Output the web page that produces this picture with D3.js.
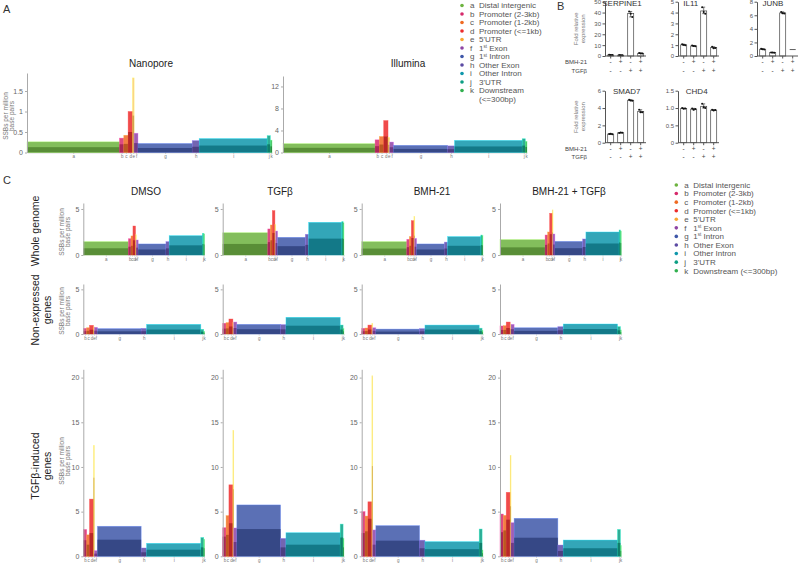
<!DOCTYPE html>
<html>
<head>
<meta charset="utf-8">
<script src="https://cdn.jsdelivr.net/npm/d3@7"></script>
<style>
  body { margin: 0; background: #fff; }
  text { font-family: "Liberation Sans", Arial, sans-serif; }
</style>
</head>
<body>
<svg id="fig" width="799" height="563"></svg>
<script>
// genomic region categories
const cats = ["a", "b", "c", "d", "e", "f", "g", "h", "i", "j", "k"];
const catNames = ["Distal intergenic", "Promoter (2-3kb)", "Promoter (1-2kb)", "Promoter (<=1kb)", "5'UTR",
  "1st Exon", "1st Intron", "Other Exon", "Other Intron", "3'UTR", "Downstream (<=300bp)"];
const catColors = ["#6db33f", "#d62a6b", "#ef6a22", "#ec2b2b", "#f7a833", "#8e44a4",
  "#3e57a8", "#5b4aa3", "#0f97ab", "#0c9e83", "#31b04f"];
const geneCats = cats.slice(1); // gene subsets have no distal intergenic

// bar widths (share of the region, %)
const widthsA = [38.5, 1.8, 1.8, 1.8, 0.7, 1.6, 22.6, 2.9, 28.3, 1.3, 0.7];
const widthsWhole = [38.7, 2.2, 1.7, 2.2, 0.6, 1.7, 23.8, 2.8, 28.5, 1.1, 0.5];
const widthsGenes = [2.8, 2.4, 3.3, 0.7, 2.6, 36.5, 4.5, 45.3, 2.4, 0.5];

// panel A
const nanoporeTop = [0.26, 0.35, 0.42, 1.0, 1.82, 0.47, 0.22, 0.29, 0.34, 0.41, 0.3];
const nanoporeLow = [0.13, 0.2, 0.21, 0.5, 0.9, 0.23, 0.11, 0.14, 0.17, 0.2, 0.15];
const illuminaTop = [1.6, 2.3, 2.9, 5.8, 2.7, 1.9, 1.3, 1.2, 2.2, 2.5, 2.0];
const illuminaLow = [0.85, 1.15, 1.45, 2.9, 1.4, 0.95, 0.65, 0.6, 1.1, 1.25, 1.0];

// panel C, one row per condition
const conditions = ["DMSO", "TGFβ", "BMH-21", "BMH-21 + TGFβ"];
const wholeTop = [
  [1.45, 1.77, 2.07, 3.15, 2.2, 1.63, 1.2, 1.45, 2.1, 2.35, 2.3],
  [2.42, 2.83, 3.26, 4.82, 3.3, 2.6, 1.92, 2.25, 3.55, 3.62, 3.5],
  [1.45, 1.7, 2.0, 3.73, 4.2, 1.8, 1.2, 1.4, 2.0, 2.17, 2.1],
  [1.67, 2.17, 2.5, 4.53, 4.9, 2.28, 1.48, 1.74, 2.5, 2.72, 2.6]];
const wholeLow = [
  [0.73, 0.9, 1.0, 1.6, 1.1, 0.8, 0.6, 0.72, 1.05, 1.2, 1.15],
  [1.2, 1.4, 1.6, 2.4, 1.65, 1.3, 0.96, 1.1, 1.78, 1.8, 1.75],
  [0.7, 0.85, 1.0, 1.85, 2.1, 0.9, 0.6, 0.7, 1.0, 1.08, 1.05],
  [0.83, 1.1, 1.25, 2.26, 2.45, 1.14, 0.74, 0.87, 1.25, 1.36, 1.3]];
const nonExprTop = [
  [0.63, 0.7, 0.97, 0.8, 0.75, 0.6, 0.63, 1.08, 0.52, 0.3],
  [1.2, 1.27, 1.68, 1.3, 1.34, 1.08, 1.05, 1.87, 1.0, 0.6],
  [0.63, 0.67, 1.0, 1.2, 0.7, 0.55, 0.6, 1.0, 0.65, 0.4],
  [0.9, 0.93, 1.34, 1.1, 1.08, 0.7, 0.82, 1.12, 0.82, 0.45]];
const nonExprLow = [
  [0.32, 0.35, 0.48, 0.4, 0.37, 0.3, 0.31, 0.5, 0.26, 0.15],
  [0.6, 0.63, 0.84, 0.65, 0.67, 0.54, 0.52, 0.93, 0.5, 0.3],
  [0.31, 0.33, 0.5, 0.6, 0.35, 0.27, 0.3, 0.5, 0.32, 0.2],
  [0.45, 0.46, 0.67, 0.55, 0.54, 0.35, 0.41, 0.56, 0.41, 0.22]];
const inducedTop = [
  [3.0, 2.4, 6.4, 12.4, 0.63, 3.36, 0.93, 1.45, 2.1, 1.9],
  [3.2, 4.55, 8.0, 14.1, 3.17, 5.75, 2.0, 2.64, 3.6, 2.0],
  [5.0, 4.5, 6.1, 20.2, 2.95, 3.43, 1.8, 1.64, 3.05, 0.7],
  [4.73, 4.58, 7.16, 11.3, 3.76, 4.25, 1.26, 1.82, 3.0, 1.2]];
const inducedLow = [
  [1.8, 1.3, 2.6, 8.8, 0.3, 1.86, 0.45, 0.74, 1.0, 0.9],
  [2.2, 2.4, 3.7, 7.5, 1.6, 3.05, 1.0, 1.3, 2.1, 1.0],
  [2.6, 2.8, 4.2, 10.1, 1.3, 1.75, 0.9, 0.8, 1.5, 0.35],
  [2.7, 2.9, 4.1, 5.6, 1.5, 2.08, 0.6, 0.9, 1.5, 0.6]];

// panel B, qPCR
const bGenes = ["SERPINE1", "IL11", "JUNB", "SMAD7", "CHD4"];
const bmhSigns = ["-", "+", "-", "+"];
const tgfSigns = ["-", "-", "+", "+"];
const bMeans = [[1.0, 0.8, 39, 2.5], [1.03, 0.93, 4.15, 0.77], [1.0, 0.5, 6.35, 0.95],
  [1.0, 1.15, 4.9, 3.6], [0.99, 0.97, 1.05, 0.94]];
const bReps = [
  [[1.1, 1.0, 0.9], [0.9, 0.8, 0.7], [41, 39, 36], [2.8, 2.4, 2.3]],
  [[1.08, 1.03, 0.98], [0.97, 0.92, 0.9], [4.5, 4.05, 3.9], [0.85, 0.72, 0.74]],
  [[1.05, 0.98, 0.97], [0.52, 0.5, 0.48], [6.5, 6.3, 6.25], []],
  [[1.0, 1.02, 0.98], [1.12, 1.18, 1.15], [4.95, 4.88, 4.85], [3.8, 3.5, 3.5]],
  [[1.0, 0.98, 0.99], [0.99, 0.95, 0.97], [1.12, 1.02, 1.0], [0.95, 0.93, 0.94]]];
const bMax = [50, 5, 8, 6, 1.5];
const bTicks = [[0, 10, 20, 30, 40, 50], [0, 1, 2, 3, 4, 5], [0, 2, 4, 6, 8], [0, 2, 4, 6], [0, 0.5, 1.0, 1.5]];

const svg = d3.select("#fig");
const colorOf = {};
cats.forEach((c, i) => colorOf[c] = catColors[i]);

// variable width bar chart
function mekko(o) {
  const g = svg.append("g");
  const starts = [0, ...d3.cumsum(o.widths)];
  const x = d3.scaleLinear().domain([0, d3.sum(o.widths)]).range([o.x0, o.x0 + o.w]);
  const y = d3.scaleLinear().domain([0, o.yMax]).range([o.y0, o.y0 - o.h]);
  const data = o.cats.map((c, i) => ({ c, s: starts[i], e: starts[i + 1], top: o.top[i], low: o.low[i], col: colorOf[c] }));

  const xa = g.append("g").attr("transform", `translate(0,${o.y0})`)
    .call(d3.axisBottom(x).tickValues(data.map(d => (d.s + d.e) / 2))
      .tickFormat((v, i) => data[i].c).tickSize(1.5).tickSizeOuter(0).tickPadding(1));
  xa.select(".domain").attr("stroke", "#ddd");
  xa.selectAll("line").attr("stroke", "#ccc");
  xa.selectAll("text").attr("font-size", 4.5).attr("fill", "#777");

  const bars = g.append("g").selectAll("g").data(data).join("g");
  bars.append("rect")
    .attr("x", d => x(d.s))
    .attr("width", d => Math.max(0.8, x(d.e) - x(d.s)))
    .attr("y", d => y(d.top))
    .attr("height", d => y(0) - y(d.top))
    .attr("fill", d => d.col)
    .attr("fill-opacity", d => d.c === "e" ? 0.55 : 0.85)
    .attr("stroke", d => d3.color(d.col).brighter(1.2))
    .attr("stroke-width", 0.6)
    .attr("stroke-opacity", 0.6);
  bars.append("rect")
    .attr("x", d => x(d.s))
    .attr("width", d => Math.max(0.8, x(d.e) - x(d.s)))
    .attr("y", d => y(d.low))
    .attr("height", d => y(0) - y(d.low))
    .attr("fill", d => d3.color(d.col).darker(0.9))
    .attr("fill-opacity", d => d.c === "e" ? 0.55 : 0.8);

  const ya = g.append("g").attr("transform", `translate(${o.x0},0)`)
    .call(d3.axisLeft(y).tickValues(o.ticks).tickFormat(d3.format("~g")).tickSize(2).tickSizeOuter(0).tickPadding(2));
  ya.select(".domain").attr("stroke", "#aaa");
  ya.selectAll("line").attr("stroke", "#aaa");
  ya.selectAll("text").attr("font-size", 7).attr("fill", "#666");

  if (o.title) {
    g.append("text").attr("x", o.tx).attr("y", o.ty).attr("text-anchor", "middle")
      .attr("font-size", o.tsize).attr("fill", "#222").text(o.title);
  }
  if (o.yLab) {
    const t = g.append("text").attr("transform", `translate(${o.lx},${o.ly}) rotate(-90)`)
      .attr("text-anchor", "middle").attr("font-size", 6.5).attr("fill", "#777");
    t.append("tspan").attr("x", 0).attr("y", 0).text("SSBs per million");
    t.append("tspan").attr("x", 0).attr("y", 6.2).text("base pairs");
  }
}

function legendLabel(sel, name) {
  const m = name.match(/^1st (.*)$/);
  if (m) {
    sel.append("tspan").text("1");
    sel.append("tspan").attr("font-size", 4.5).attr("dy", -2.8).text("st");
    sel.append("tspan").attr("dy", 2.8).text(" " + m[1]);
  } else sel.append("tspan").text(name);
}

function legend(x, y0, step, split) {
  const g = svg.append("g");
  cats.forEach((c, i) => {
    const y = y0 + i * step;
    g.append("circle").attr("cx", x).attr("cy", y).attr("r", 1.8).attr("fill", catColors[i]);
    g.append("text").attr("x", x + 8).attr("y", y + 2.8).attr("font-size", 8).attr("fill", "#555").text(c);
    let name = catNames[i];
    if (split && c === "k") {
      name = "Downstream";
      g.append("text").attr("x", x + 17).attr("y", y + step + 2.8).attr("font-size", 8).attr("fill", "#555").text("(<=300bp)");
    }
    legendLabel(g.append("text").attr("x", x + 17).attr("y", y + 2.8).attr("font-size", 8).attr("fill", "#555"), name);
  });
}

// panel letters
[["A", 3, 13], ["B", 557, 10], ["C", 3, 184]].forEach(p =>
  svg.append("text").attr("x", p[1]).attr("y", p[2]).attr("font-size", 11).attr("fill", "#333").text(p[0]));

// panel A
mekko({ x0: 27, w: 245, y0: 152.5, h: 79.5, yMax: 1.94, ticks: [0, 0.5, 1, 1.5],
  widths: widthsA, cats, top: nanoporeTop, low: nanoporeLow,
  title: "Nanopore", tx: 151, ty: 67, tsize: 10, yLab: true, lx: 7.5, ly: 116 });
mekko({ x0: 283, w: 244, y0: 152.5, h: 76.5, yMax: 13.9, ticks: [0, 4, 8, 12],
  widths: widthsA, cats, top: illuminaTop, low: illuminaLow,
  title: "Illumina", tx: 408, ty: 67, tsize: 10 });
legend(462, 5.5, 8.5, true);

// panel C
const colX = [83.3, 222.7, 361.7, 500];
const titleX = [146, 280, 432, 569];
const rows = [
  { y0: 255, h: 52, yMax: 5.65, ticks: [0, 5], widths: widthsWhole, cats, top: wholeTop, low: wholeLow, ly: 232 },
  { y0: 334, h: 50, yMax: 5.6, ticks: [0, 5], widths: widthsGenes, cats: geneCats, top: nonExprTop, low: nonExprLow, ly: 311 },
  { y0: 556.3, h: 187, yMax: 20.93, ticks: [0, 5, 10, 15, 20], widths: widthsGenes, cats: geneCats, top: inducedTop, low: inducedLow, ly: 461 }];
rows.forEach((r, ri) => {
  conditions.forEach((cond, ci) => {
    mekko({ x0: colX[ci], w: 121, y0: r.y0, h: r.h, yMax: r.yMax, ticks: r.ticks,
      widths: r.widths, cats: r.cats, top: r.top[ci], low: r.low[ci],
      title: ri === 0 ? cond : null, tx: titleX[ci], ty: 194.5, tsize: 10,
      yLab: ci === 0, lx: 63.5, ly: r.ly });
  });
});
const rowLabels = [["Whole genome"], ["Non-expressed", "genes"], ["TGFβ-induced", "genes"]];
const rowLabelY = [231, 310, 466];
rowLabels.forEach((lines, i) => {
  const t = svg.append("text").attr("transform", `translate(39,${rowLabelY[i]}) rotate(-90)`)
    .attr("text-anchor", "middle").attr("font-size", 10.5).attr("fill", "#222");
  lines.forEach((l, j) => t.append("tspan").attr("x", 0).attr("y", j * 11.7).text(l));
});
legend(676.3, 185, 8.57, false);

// panel B
const bPos = [
  { ax: 605, y0: 56, yTop: 1.7, tx: 622, ty: 5.5, rowLab: true },
  { ax: 678, y0: 56, yTop: 1.7, tx: 690.7, ty: 5.5 },
  { ax: 757, y0: 56, yTop: 1.7, tx: 773, ty: 5.5 },
  { ax: 605, y0: 142.7, yTop: 90.7, tx: 626.7, ty: 94.3, rowLab: true },
  { ax: 678, y0: 142.7, yTop: 90.7, tx: 696.7, ty: 94.3 }];
bGenes.forEach((gene, gi) => {
  const p = bPos[gi];
  const g = svg.append("g");
  const x = d3.scaleBand().domain(d3.range(4)).range([p.ax + 0.7, p.ax + 40.7]).paddingInner(0.4).paddingOuter(0.2);
  const y = d3.scaleLinear().domain([0, bMax[gi]]).range([p.y0, p.yTop]);
  const fmt = bMax[gi] === 1.5 ? (d => d === 0 ? "0" : d.toFixed(1)) : d3.format("d");

  bMeans[gi].forEach((m, i) => {
    const reps = bReps[gi][i];
    const cx = x(i) + x.bandwidth() / 2;
    if (!reps.length) {
      g.append("line").attr("x1", cx - 3).attr("x2", cx + 3).attr("y1", y(m)).attr("y2", y(m))
        .attr("stroke", "#333").attr("stroke-width", 0.8);
      return;
    }
    g.append("rect").attr("x", x(i)).attr("width", x.bandwidth()).attr("y", y(m)).attr("height", y(0) - y(m))
      .attr("fill", "#fff").attr("stroke", "#444").attr("stroke-width", 0.7);
    const lo = d3.min(reps), hi = d3.max(reps);
    g.append("line").attr("x1", cx).attr("x2", cx).attr("y1", y(lo)).attr("y2", y(hi)).attr("stroke", "#222").attr("stroke-width", 0.6);
    [lo, hi].forEach(v => g.append("line").attr("x1", cx - 1.5).attr("x2", cx + 1.5).attr("y1", y(v)).attr("y2", y(v))
      .attr("stroke", "#222").attr("stroke-width", 0.6));
    reps.forEach((v, k) => g.append("circle").attr("cx", cx + (k - 1) * 1.6).attr("cy", y(v)).attr("r", 1)
      .attr("fill", "#111"));
  });

  const ya = g.append("g").attr("transform", `translate(${p.ax},0)`)
    .call(d3.axisLeft(y).tickValues(bTicks[gi]).tickFormat(fmt).tickSize(2.5).tickSizeOuter(0).tickPadding(1.5));
  ya.select(".domain").attr("stroke", "#555");
  ya.selectAll("line").attr("stroke", "#555");
  ya.selectAll("text").attr("font-size", 6).attr("fill", "#555");

  const xa = g.append("g").attr("transform", `translate(0,${p.y0})`)
    .call(d3.axisBottom(x).tickSize(2.5).tickSizeOuter(0).tickFormat(""));
  xa.select(".domain").attr("stroke", "#555").attr("d", `M${p.ax},0H${p.ax + 41}`);
  xa.selectAll("line").attr("stroke", "#555");

  g.append("text").attr("x", p.tx).attr("y", p.ty).attr("text-anchor", "middle")
    .attr("font-size", 8).attr("fill", "#333").text(gene);

  [bmhSigns, tgfSigns].forEach((signs, r) => {
    signs.forEach((s, i) => g.append("text").attr("x", x(i) + x.bandwidth() / 2).attr("y", p.y0 + 8 + r * 8.6)
      .attr("text-anchor", "middle").attr("font-size", 6.5).attr("fill", "#444").text(s));
  });
  if (p.rowLab) {
    ["BMH-21", "TGFβ"].forEach((l, r) => g.append("text").attr("x", 587).attr("y", p.y0 + 8 + r * 8.6)
      .attr("text-anchor", "end").attr("font-size", 6).attr("fill", "#444").text(l));
    const t = g.append("text").attr("transform", `translate(578,${(p.y0 + p.yTop) / 2}) rotate(-90)`)
      .attr("text-anchor", "middle").attr("font-size", 6).attr("fill", "#777");
    t.append("tspan").attr("x", 0).attr("y", 0).text("Fold relative");
    t.append("tspan").attr("x", 0).attr("y", 7).text("expression");
  }
});
</script>
</body>
</html>
